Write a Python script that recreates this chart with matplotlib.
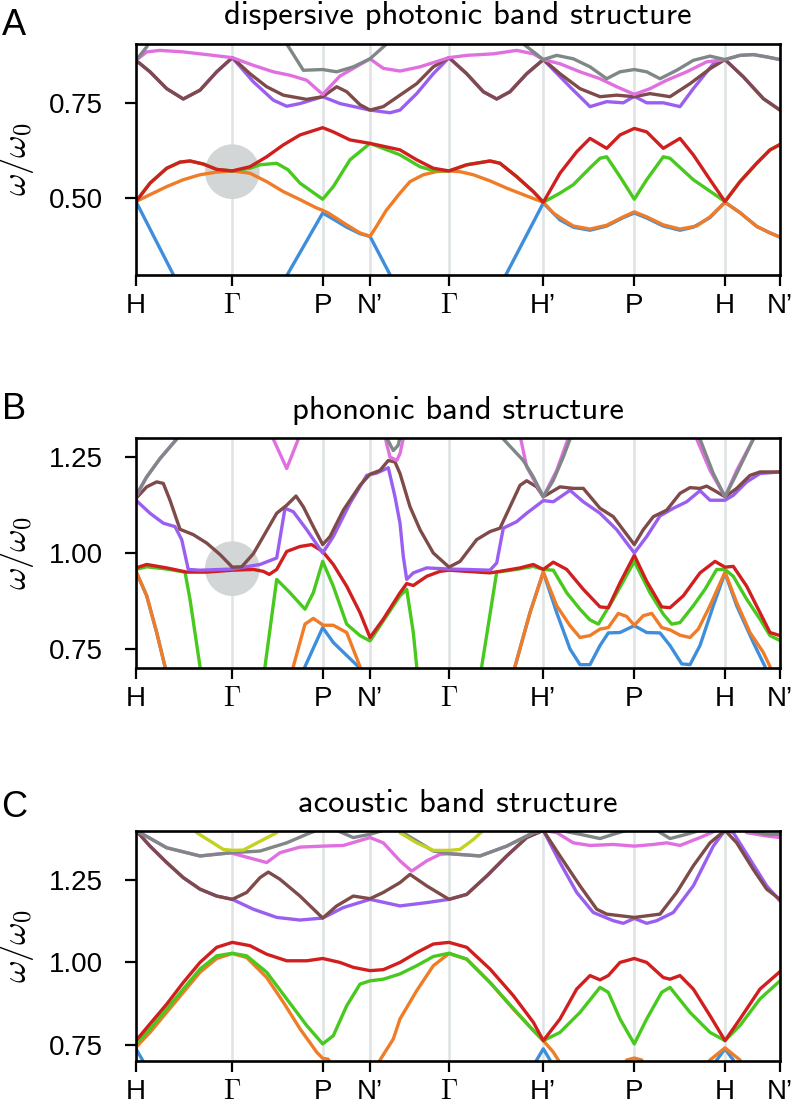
import numpy as np
import matplotlib.pyplot as plt

plt.rcParams['font.family'] = ['Liberation Sans', 'DejaVu Sans']
plt.rcParams['mathtext.fontset'] = 'cm'

# high-symmetry points along the k-path
K_POINTS = [0.0, 0.963, 1.867, 2.34, 3.13, 4.073, 4.983, 5.89, 6.44]
K_LABELS = ['H', r'$\Gamma$', 'P', 'N’', r'$\Gamma$', 'H’', 'P', 'H', 'N’']

TITLES = ['dispersive photonic band structure',
          'phononic band structure',
          'acoustic band structure']
LETTERS = ['A', 'B', 'C']
YLIMS = [(0.30, 0.905), (0.70, 1.30), (0.70, 1.40)]
YTICKS = [[0.50, 0.75], [0.75, 1.00, 1.25], [0.75, 1.00, 1.25]]

# highlighted degeneracy at Gamma (panels A and B)
HIGHLIGHTS = [(0.963, 0.570), (0.963, 0.959), None]

COLORS = {
    'blue': '#3d8fdd', 'orange': '#f07c28', 'green': '#47c91e',
    'red': '#d11f1f', 'purple': '#9a5ff0', 'brown': '#7e4b49',
    'pink': '#e070e0', 'gray': '#7f8787', 'olive': '#c3d11f',
}

# ---- panel A: dispersive photonic bands (k, omega/omega0); None = gap ----
A_BLUE = [(0, 0.492), (0.42, 0.277), None,
          (1.45, 0.272), (1.867, 0.462), (1.973, 0.446), (2.107, 0.425),
          (2.24, 0.408), (2.34, 0.401), (2.54, 0.301), (2.6, 0.27), None,
          (3.64, 0.271), (4.073, 0.488), (4.24, 0.444), (4.373, 0.425),
          (4.54, 0.417), (4.707, 0.428), (4.873, 0.450), (4.983, 0.462),
          (5.107, 0.449), (5.273, 0.428), (5.44, 0.417), (5.573, 0.425),
          (5.74, 0.450), (5.89, 0.490), (6.04, 0.463), (6.207, 0.427),
          (6.34, 0.410), (6.44, 0.399)]
A_ORANGE = [(0, 0.492), (0.14, 0.510), (0.307, 0.531), (0.473, 0.549),
            (0.64, 0.562), (0.807, 0.569), (0.963, 0.572), (1.14, 0.566),
            (1.307, 0.544), (1.473, 0.518), (1.64, 0.497), (1.807, 0.475),
            (1.867, 0.469), (1.923, 0.462), (2.107, 0.431), (2.24, 0.410),
            (2.34, 0.401), (2.40, 0.425), (2.50, 0.468), (2.64, 0.514),
            (2.74, 0.544), (2.873, 0.562), (3.0, 0.570), (3.13, 0.572),
            (3.24, 0.570), (3.373, 0.562), (3.54, 0.546), (3.707, 0.527),
            (3.873, 0.510), (4.073, 0.490), (4.173, 0.462), (4.24, 0.450),
            (4.373, 0.428), (4.54, 0.420), (4.707, 0.430), (4.873, 0.452),
            (4.983, 0.465), (5.107, 0.452), (5.273, 0.431), (5.44, 0.420),
            (5.607, 0.428), (5.74, 0.452), (5.89, 0.490), (6.04, 0.463),
            (6.207, 0.427), (6.34, 0.410), (6.44, 0.399)]
A_GREEN = [(0, 0.492), (0.14, 0.540), (0.307, 0.579), (0.44, 0.595),
           (0.54, 0.598), (0.673, 0.590), (0.807, 0.576), (0.963, 0.572),
           (1.14, 0.579), (1.24, 0.588), (1.407, 0.592), (1.52, 0.575),
           (1.64, 0.540), (1.867, 0.498), (1.973, 0.531), (2.14, 0.601),
           (2.34, 0.644), (2.64, 0.614), (2.84, 0.583), (2.973, 0.573),
           (3.13, 0.572), (3.307, 0.588), (3.54, 0.598), (3.64, 0.592),
           (3.807, 0.557), (3.973, 0.518), (4.073, 0.490), (4.24, 0.514),
           (4.373, 0.536), (4.54, 0.580), (4.64, 0.605), (4.707, 0.609),
           (4.84, 0.557), (4.983, 0.498), (5.107, 0.549), (5.273, 0.609),
           (5.34, 0.605), (5.573, 0.549), (5.89, 0.492), (6.04, 0.544),
           (6.207, 0.592), (6.34, 0.627), (6.44, 0.641)]
A_RED = [(0, 0.492), (0.14, 0.540), (0.307, 0.579), (0.44, 0.595),
         (0.54, 0.598), (0.673, 0.590), (0.807, 0.576), (0.963, 0.572),
         (1.14, 0.583), (1.307, 0.609), (1.473, 0.640), (1.64, 0.666),
         (1.867, 0.685), (1.973, 0.674), (2.14, 0.653), (2.34, 0.644),
         (2.64, 0.627), (2.807, 0.601), (2.973, 0.579), (3.13, 0.572),
         (3.307, 0.588), (3.54, 0.598), (3.64, 0.592), (3.807, 0.557),
         (3.973, 0.518), (4.073, 0.490), (4.24, 0.566), (4.407, 0.622),
         (4.54, 0.657), (4.707, 0.631), (4.84, 0.666), (4.983, 0.683),
         (5.107, 0.674), (5.273, 0.631), (5.44, 0.657), (5.573, 0.614),
         (5.74, 0.549), (5.89, 0.492), (6.04, 0.544), (6.207, 0.592),
         (6.34, 0.627), (6.44, 0.641)]
A_PURPLE = [(0, 0.861), (0.14, 0.831), (0.307, 0.787), (0.473, 0.760),
            (0.64, 0.783), (0.807, 0.831), (0.963, 0.868), (1.173, 0.805),
            (1.373, 0.757), (1.507, 0.741), (1.64, 0.748), (1.867, 0.766),
            (2.04, 0.748), (2.34, 0.731), (2.54, 0.724), (2.64, 0.731),
            (2.807, 0.774), (2.973, 0.826), (3.13, 0.868), (3.307, 0.826),
            (3.473, 0.779), (3.607, 0.760), (3.74, 0.779), (3.907, 0.826),
            (4.073, 0.863), (4.373, 0.783), (4.54, 0.740), (4.707, 0.753),
            (4.873, 0.750), (4.983, 0.767), (5.107, 0.750), (5.273, 0.750),
            (5.44, 0.740), (5.573, 0.787), (5.773, 0.852), (5.89, 0.863),
            (6.073, 0.818), (6.273, 0.761), (6.44, 0.731)]
A_BROWN = [(0, 0.861), (0.14, 0.831), (0.307, 0.787), (0.473, 0.760),
           (0.64, 0.783), (0.807, 0.831), (0.963, 0.868), (1.14, 0.826),
           (1.307, 0.792), (1.473, 0.770), (1.707, 0.759), (1.867, 0.766),
           (2.007, 0.792), (2.107, 0.779), (2.24, 0.745), (2.34, 0.731),
           (2.473, 0.740), (2.64, 0.770), (2.807, 0.800), (2.973, 0.844),
           (3.13, 0.868), (3.307, 0.826), (3.473, 0.779), (3.607, 0.760),
           (3.74, 0.779), (3.907, 0.826), (4.073, 0.863), (4.24, 0.826),
           (4.44, 0.787), (4.64, 0.766), (4.807, 0.770), (4.983, 0.766),
           (5.14, 0.774), (5.34, 0.766), (5.54, 0.800), (5.74, 0.839),
           (5.89, 0.863), (6.073, 0.818), (6.273, 0.761), (6.44, 0.731)]
A_PINK = [(0, 0.861), (0.107, 0.883), (0.24, 0.887), (0.473, 0.883),
          (0.707, 0.876), (0.963, 0.868), (1.173, 0.848), (1.373, 0.831),
          (1.54, 0.822), (1.707, 0.809), (1.867, 0.772), (2.04, 0.820),
          (2.24, 0.850), (2.34, 0.865), (2.473, 0.840), (2.64, 0.833),
          (2.84, 0.844), (3.13, 0.868), (3.307, 0.874), (3.573, 0.878),
          (3.807, 0.887), (3.973, 0.878), (4.073, 0.863), (4.24, 0.852),
          (4.44, 0.831), (4.64, 0.813), (4.807, 0.792), (4.983, 0.772),
          (5.14, 0.787), (5.307, 0.809), (5.507, 0.831), (5.707, 0.857),
          (5.89, 0.863), (6.04, 0.874), (6.173, 0.876), (6.307, 0.870),
          (6.44, 0.863)]
A_GRAY = [(0, 0.861), (0.107, 0.896), (0.16, 0.93), None,
          (1.45, 0.93), (1.507, 0.904), (1.673, 0.835), (1.867, 0.837),
          (2.007, 0.831), (2.173, 0.844), (2.34, 0.865), (2.507, 0.904),
          (2.55, 0.94), None,
          (3.84, 0.93), (3.873, 0.904), (4.073, 0.863), (4.207, 0.874),
          (4.373, 0.865), (4.54, 0.844), (4.707, 0.813), (4.84, 0.831),
          (4.983, 0.837), (5.107, 0.831), (5.24, 0.813), (5.407, 0.835),
          (5.573, 0.861), (5.74, 0.872), (5.89, 0.863), (6.04, 0.874),
          (6.173, 0.876), (6.307, 0.870), (6.44, 0.863)]

# ---- panel B: phononic bands ----
B_BLUE = [(0, 0.952), (0.107, 0.888), (0.207, 0.792), (0.29, 0.703),
          (0.31, 0.68), None,
          (1.67, 0.68), (1.69, 0.703), (1.867, 0.805), (1.973, 0.766),
          (2.107, 0.732), (2.223, 0.703), (2.25, 0.68), None,
          (3.77, 0.68), (3.79, 0.703), (3.94, 0.844), (4.073, 0.950),
          (4.207, 0.844), (4.34, 0.749), (4.44, 0.708), (4.54, 0.708),
          (4.64, 0.758), (4.723, 0.791), (4.84, 0.792), (4.983, 0.810),
          (5.107, 0.792), (5.24, 0.791), (5.34, 0.758), (5.457, 0.710),
          (5.54, 0.708), (5.64, 0.758), (5.773, 0.862), (5.89, 0.948),
          (6.007, 0.862), (6.173, 0.766), (6.29, 0.703), (6.31, 0.68)]
B_ORANGE = [(0, 0.952), (0.107, 0.888), (0.207, 0.792), (0.29, 0.703),
            (0.31, 0.68), None,
            (1.56, 0.68), (1.573, 0.703), (1.69, 0.814), (1.773, 0.829),
            (1.873, 0.811), (1.973, 0.811), (2.107, 0.792), (2.24, 0.703),
            (2.25, 0.68), None,
            (3.77, 0.68), (3.79, 0.703), (3.94, 0.844), (4.073, 0.950),
            (4.207, 0.862), (4.34, 0.810), (4.44, 0.779), (4.54, 0.784),
            (4.64, 0.801), (4.723, 0.805), (4.823, 0.842), (4.907, 0.834),
            (4.983, 0.811), (5.073, 0.836), (5.157, 0.842), (5.257, 0.805),
            (5.34, 0.799), (5.44, 0.785), (5.54, 0.779), (5.623, 0.801),
            (5.74, 0.862), (5.89, 0.950), (6.007, 0.870), (6.14, 0.792),
            (6.273, 0.740), (6.34, 0.703), (6.35, 0.68)]
B_GREEN = [(0, 0.957), (0.107, 0.964), (0.307, 0.958), (0.49, 0.950),
           (0.54, 0.879), (0.64, 0.703), (0.645, 0.68), None,
           (1.287, 0.68), (1.29, 0.703), (1.407, 0.931), (1.54, 0.896),
           (1.69, 0.853), (1.773, 0.896), (1.867, 0.978), (1.973, 0.913),
           (2.107, 0.814), (2.24, 0.784), (2.34, 0.770), (2.64, 0.888),
           (2.707, 0.905), (2.773, 0.792), (2.807, 0.703), (2.81, 0.68), None,
           (3.45, 0.68), (3.457, 0.703), (3.607, 0.950), (3.807, 0.957),
           (3.973, 0.965), (4.073, 0.957), (4.173, 0.955), (4.307, 0.896),
           (4.44, 0.853), (4.54, 0.825), (4.623, 0.814), (4.773, 0.879),
           (4.983, 0.978), (5.14, 0.896), (5.273, 0.840), (5.357, 0.814),
           (5.44, 0.818), (5.573, 0.862), (5.69, 0.905), (5.807, 0.957),
           (5.89, 0.957), (5.973, 0.939), (6.107, 0.879), (6.24, 0.827),
           (6.34, 0.784), (6.44, 0.771)]
B_RED = [(0, 0.961), (0.107, 0.970), (0.307, 0.961), (0.507, 0.950),
         (0.707, 0.950), (0.963, 0.955), (1.173, 0.957), (1.273, 0.952),
         (1.333, 0.944), (1.407, 0.957), (1.507, 1.004), (1.64, 1.017),
         (1.757, 1.022), (1.867, 1.004), (1.973, 0.970), (2.107, 0.913),
         (2.24, 0.844), (2.34, 0.779), (2.473, 0.827), (2.64, 0.896),
         (2.707, 0.920), (2.773, 0.915), (2.907, 0.939), (3.04, 0.952),
         (3.13, 0.955), (3.307, 0.952), (3.54, 0.948), (3.64, 0.952),
         (3.84, 0.961), (3.973, 0.970), (4.073, 0.957), (4.173, 0.976),
         (4.307, 0.957), (4.473, 0.905), (4.64, 0.859), (4.723, 0.857),
         (4.84, 0.922), (4.983, 0.994), (5.107, 0.926), (5.257, 0.859),
         (5.34, 0.857), (5.473, 0.888), (5.64, 0.948), (5.79, 0.978),
         (5.89, 0.963), (5.973, 0.965), (6.107, 0.913), (6.24, 0.844),
         (6.34, 0.792), (6.44, 0.784)]
B_PURPLE = [(0, 1.138), (0.14, 1.104), (0.273, 1.078), (0.39, 1.069),
            (0.457, 1.035), (0.523, 0.957), (0.64, 0.955), (0.963, 0.958),
            (1.24, 0.970), (1.407, 0.987), (1.49, 1.117), (1.573, 1.108),
            (1.707, 1.061), (1.867, 1.000), (1.973, 1.043), (2.14, 1.130),
            (2.307, 1.203), (2.407, 1.209), (2.523, 1.223), (2.59, 1.147),
            (2.64, 1.078), (2.673, 0.991), (2.707, 0.931), (2.773, 0.948),
            (2.907, 0.961), (3.13, 0.958), (3.307, 0.957), (3.54, 0.955),
            (3.607, 0.974), (3.673, 1.065), (3.807, 1.082), (3.907, 1.104),
            (4.073, 1.137), (4.173, 1.134), (4.34, 1.164), (4.473, 1.134),
            (4.64, 1.104), (4.807, 1.061), (4.983, 1.000), (5.107, 1.043),
            (5.24, 1.097), (5.373, 1.117), (5.507, 1.134), (5.64, 1.163),
            (5.74, 1.138), (5.89, 1.138), (5.973, 1.151), (6.107, 1.186),
            (6.24, 1.208), (6.44, 1.212)]
B_BROWN = [(0, 1.143), (0.107, 1.173), (0.207, 1.186), (0.273, 1.182),
           (0.34, 1.138), (0.44, 1.062), (0.573, 1.048), (0.707, 1.026),
           (0.84, 0.996), (0.963, 0.963), (1.057, 0.964), (1.173, 0.998),
           (1.273, 1.043), (1.407, 1.104), (1.507, 1.125), (1.60, 1.149),
           (1.673, 1.121), (1.773, 1.069), (1.867, 1.022), (1.94, 1.043),
           (2.073, 1.112), (2.24, 1.177), (2.34, 1.206), (2.44, 1.216),
           (2.523, 1.242), (2.59, 1.238), (2.64, 1.208), (2.74, 1.121),
           (2.84, 1.061), (2.973, 1.000), (3.13, 0.963), (3.24, 0.978),
           (3.407, 1.035), (3.54, 1.056), (3.64, 1.065), (3.74, 1.121),
           (3.84, 1.177), (3.907, 1.189), (4.007, 1.173), (4.073, 1.147),
           (4.24, 1.173), (4.373, 1.169), (4.473, 1.169), (4.64, 1.117),
           (4.773, 1.095), (4.983, 1.022), (5.073, 1.061), (5.173, 1.095),
           (5.307, 1.112), (5.44, 1.156), (5.54, 1.171), (5.64, 1.169),
           (5.707, 1.175), (5.807, 1.160), (5.89, 1.147), (6.007, 1.169),
           (6.14, 1.203), (6.24, 1.212), (6.44, 1.212)]
B_PINK = [(0, 1.147), (0.107, 1.199), (0.24, 1.247), (0.407, 1.298),
          (0.43, 1.32), None,
          (1.36, 1.32), (1.373, 1.298), (1.507, 1.221), (1.623, 1.298),
          (1.64, 1.32), None,
          (2.48, 1.32), (2.507, 1.285), (2.54, 1.251), (2.607, 1.242),
          (2.64, 1.26), (2.69, 1.32), None,
          (3.83, 1.32), (3.907, 1.225), (4.073, 1.147), (4.207, 1.216),
          (4.35, 1.32), None,
          (5.6, 1.32), (5.607, 1.298), (5.74, 1.216), (5.89, 1.147),
          (6.007, 1.216), (6.173, 1.298), (6.18, 1.32)]
B_GRAY = [(0, 1.151), (0.107, 1.199), (0.24, 1.247), (0.407, 1.298),
          (0.43, 1.32), None,
          (2.47, 1.32), (2.573, 1.268), (2.62, 1.281), (2.66, 1.32), None,
          (3.64, 1.32), (3.673, 1.298), (3.873, 1.242), (3.973, 1.199),
          (4.073, 1.147), (4.173, 1.19), (4.273, 1.251), (4.34, 1.298),
          (4.35, 1.32), None,
          (5.63, 1.32), (5.64, 1.298), (5.773, 1.208), (5.89, 1.147),
          (6.007, 1.208), (6.173, 1.298), (6.18, 1.32)]

# ---- panel C: acoustic bands ----
C_BLUE = [(0, 0.737), (0.07, 0.70), (0.09, 0.68), None,
          (3.98, 0.68), (4.007, 0.703), (4.073, 0.737), (4.14, 0.703),
          (4.16, 0.68), None,
          (5.78, 0.68), (5.807, 0.703), (5.89, 0.737), (5.973, 0.703),
          (6.0, 0.68)]
C_ORANGE = [(0, 0.742), (0.14, 0.787), (0.307, 0.848), (0.473, 0.909),
            (0.64, 0.970), (0.807, 1.012), (0.963, 1.027), (1.107, 1.015),
            (1.307, 0.954), (1.473, 0.879), (1.64, 0.798), (1.807, 0.727),
            (1.867, 0.708), (1.92, 0.706), (1.95, 0.69), None,
            (2.43, 0.69), (2.44, 0.703), (2.573, 0.767), (2.64, 0.828),
            (2.807, 0.914), (2.973, 0.990), (3.13, 1.027), (3.307, 1.010),
            (3.54, 0.939), (3.773, 0.858), (3.973, 0.793), (4.073, 0.762),
            (4.173, 0.727), (4.223, 0.703), (4.24, 0.69), None,
            (4.89, 0.69), (4.907, 0.703), (4.983, 0.709), (5.057, 0.703),
            (5.07, 0.69), None,
            (5.72, 0.69), (5.74, 0.703), (5.89, 0.740), (6.04, 0.703),
            (6.06, 0.69)]
C_GREEN = [(0, 0.752), (0.14, 0.798), (0.307, 0.858), (0.473, 0.919),
           (0.64, 0.980), (0.807, 1.020), (0.963, 1.028), (1.107, 1.020),
           (1.307, 0.970), (1.507, 0.889), (1.707, 0.808), (1.867, 0.752),
           (1.973, 0.777), (2.107, 0.868), (2.24, 0.934), (2.34, 0.944),
           (2.473, 0.949), (2.64, 0.965), (2.807, 0.990), (2.973, 1.018),
           (3.13, 1.028), (3.307, 1.010), (3.54, 0.939), (3.773, 0.860),
           (3.973, 0.793), (4.073, 0.762), (4.24, 0.787), (4.44, 0.848),
           (4.64, 0.924), (4.723, 0.909), (4.84, 0.828), (4.983, 0.752),
           (5.107, 0.828), (5.257, 0.909), (5.34, 0.924), (5.54, 0.848),
           (5.74, 0.787), (5.89, 0.762), (6.04, 0.808), (6.24, 0.889),
           (6.44, 0.944)]
C_RED = [(0, 0.762), (0.14, 0.813), (0.307, 0.873), (0.473, 0.939),
         (0.64, 1.000), (0.807, 1.046), (0.963, 1.061), (1.14, 1.051),
         (1.307, 1.025), (1.507, 1.005), (1.707, 1.005), (1.867, 1.012),
         (2.04, 1.000), (2.173, 0.985), (2.34, 0.975), (2.473, 0.978),
         (2.64, 1.000), (2.807, 1.030), (2.973, 1.056), (3.13, 1.061),
         (3.307, 1.046), (3.54, 0.980), (3.773, 0.899), (3.973, 0.818),
         (4.073, 0.762), (4.24, 0.828), (4.407, 0.919), (4.54, 0.960),
         (4.64, 0.947), (4.723, 0.960), (4.84, 1.000), (4.983, 1.012),
         (5.107, 1.000), (5.273, 0.954), (5.34, 0.949), (5.44, 0.960),
         (5.573, 0.919), (5.74, 0.838), (5.89, 0.762), (6.04, 0.828),
         (6.24, 0.919), (6.44, 0.972)]
C_PURPLE = [(0, 1.402), (0.14, 1.354), (0.307, 1.304), (0.473, 1.258),
            (0.64, 1.223), (0.807, 1.202), (0.963, 1.192), (1.173, 1.162),
            (1.407, 1.137), (1.64, 1.129), (1.867, 1.135), (2.073, 1.167),
            (2.34, 1.192), (2.64, 1.172), (2.907, 1.182), (3.13, 1.192),
            (3.307, 1.207), (3.507, 1.263), (3.707, 1.324), (3.907, 1.380),
            (4.073, 1.402), (4.24, 1.304), (4.407, 1.213), (4.573, 1.152),
            (4.773, 1.127), (4.873, 1.119), (4.983, 1.134), (5.107, 1.119),
            (5.207, 1.127), (5.373, 1.152), (5.573, 1.233), (5.773, 1.354),
            (5.89, 1.402), (5.973, 1.395), (6.14, 1.314), (6.307, 1.233),
            (6.44, 1.187)]
C_BROWN = [(0, 1.402), (0.14, 1.354), (0.307, 1.304), (0.473, 1.258),
           (0.64, 1.223), (0.807, 1.202), (0.963, 1.192), (1.107, 1.213),
           (1.24, 1.258), (1.323, 1.275), (1.44, 1.253), (1.64, 1.202),
           (1.867, 1.135), (2.007, 1.172), (2.173, 1.202), (2.34, 1.194),
           (2.473, 1.213), (2.64, 1.243), (2.74, 1.268), (2.907, 1.233),
           (3.13, 1.192), (3.307, 1.207), (3.507, 1.263), (3.707, 1.324),
           (3.907, 1.380), (4.073, 1.402), (4.24, 1.324), (4.44, 1.233),
           (4.607, 1.162), (4.707, 1.147), (4.983, 1.137), (5.24, 1.147),
           (5.407, 1.213), (5.573, 1.294), (5.74, 1.364), (5.89, 1.402),
           (6.007, 1.364), (6.173, 1.283), (6.307, 1.223), (6.44, 1.192)]
C_PINK = [(0, 1.402), (0.04, 1.395), (0.307, 1.349), (0.64, 1.324),
          (0.94, 1.334), (1.307, 1.304), (1.44, 1.334), (1.64, 1.351),
          (1.867, 1.354), (2.073, 1.356), (2.34, 1.380), (2.473, 1.364),
          (2.64, 1.309), (2.757, 1.278), (2.907, 1.309), (3.04, 1.329),
          (3.13, 1.331), (3.44, 1.324), (3.707, 1.354), (3.973, 1.395),
          (4.073, 1.402), (4.207, 1.395), (4.373, 1.364), (4.54, 1.356),
          (4.773, 1.359), (4.983, 1.354), (5.173, 1.359), (5.307, 1.364),
          (5.44, 1.356), (5.64, 1.380), (5.807, 1.402), (5.85, 1.42), None,
          (6.05, 1.42), (6.107, 1.395), (6.307, 1.385), (6.44, 1.380)]
C_GRAY = [(0, 1.402), (0.04, 1.395), (0.307, 1.349), (0.64, 1.324),
          (0.963, 1.334), (1.24, 1.339), (1.507, 1.364), (1.707, 1.390),
          (1.807, 1.402), (1.85, 1.42), None,
          (1.97, 1.42), (2.007, 1.402), (2.173, 1.380), (2.34, 1.390),
          (2.473, 1.402), (2.50, 1.42), None,
          (2.60, 1.42), (2.64, 1.400), (2.807, 1.370), (2.973, 1.339),
          (3.13, 1.331), (3.44, 1.324), (3.707, 1.354), (3.973, 1.395),
          (4.073, 1.402), (4.10, 1.42), None,
          (4.20, 1.42), (4.24, 1.402), (4.44, 1.390), (4.64, 1.377),
          (4.773, 1.390), (4.907, 1.402), (4.93, 1.42), None,
          (5.18, 1.42), (5.207, 1.402), (5.34, 1.377), (5.507, 1.390),
          (5.64, 1.402), (5.67, 1.42), None,
          (6.08, 1.42), (6.107, 1.402), (6.307, 1.390), (6.44, 1.390)]
C_OLIVE = [(0.58, 1.42), (0.607, 1.395), (0.873, 1.344), (0.963, 1.341),
           (1.073, 1.342), (1.407, 1.395), (1.43, 1.42), None,
           (2.62, 1.42), (2.64, 1.395), (2.807, 1.364), (2.973, 1.341),
           (3.13, 1.341), (3.24, 1.344), (3.373, 1.374), (3.473, 1.402),
           (3.49, 1.42)]

PANEL_BANDS = [
    [('blue', A_BLUE), ('orange', A_ORANGE), ('green', A_GREEN),
     ('red', A_RED), ('purple', A_PURPLE), ('brown', A_BROWN),
     ('pink', A_PINK), ('gray', A_GRAY)],
    [('blue', B_BLUE), ('orange', B_ORANGE), ('green', B_GREEN),
     ('red', B_RED), ('purple', B_PURPLE), ('brown', B_BROWN),
     ('pink', B_PINK), ('gray', B_GRAY)],
    [('blue', C_BLUE), ('orange', C_ORANGE), ('green', C_GREEN),
     ('red', C_RED), ('purple', C_PURPLE), ('brown', C_BROWN),
     ('pink', C_PINK), ('gray', C_GRAY), ('olive', C_OLIVE)],
]


def to_xy(points):
    """Split a list of (k, w) pairs into arrays, None becomes a gap."""
    k = np.array([np.nan if p is None else p[0] for p in points])
    w = np.array([np.nan if p is None else p[1] for p in points])
    return k, w


def draw_panel(ax, bands, ylim, yticks, title, highlight):
    """Draw one band-structure panel."""
    for kp in K_POINTS[1:-1]:
        ax.axvline(kp, color='#dfe3e3', lw=1.8, zorder=0.5)
    if highlight is not None:
        ax.scatter([highlight[0]], [highlight[1]], s=1550, color='#d3d6d6',
                   edgecolors='none', zorder=1)
    for name, pts in bands:
        k, w = to_xy(pts)
        ax.plot(k, w, color=COLORS[name], lw=2.4, zorder=2,
                solid_joinstyle='round', solid_capstyle='round')

    ax.set_xlim(K_POINTS[0], K_POINTS[-1])
    ax.set_ylim(*ylim)
    ax.set_xticks(K_POINTS)
    ax.set_xticklabels(K_LABELS)
    ax.set_yticks(yticks)
    ax.set_yticklabels(['%.2f' % t for t in yticks])
    ax.tick_params(axis='both', direction='out', length=8, width=1.6,
                   labelsize=20)
    ax.tick_params(axis='y', pad=16)
    ax.tick_params(axis='x', pad=5)
    for sp in ax.spines.values():
        sp.set_linewidth(1.9)
    ax.set_ylabel(r'$\omega/\omega_0$', fontsize=25)
    ax.yaxis.set_label_coords(-0.155, 0.5)
    ax.set_title(title, fontsize=23.5, pad=14,
                 fontfamily=['cmss10', 'DejaVu Sans'])


def main():
    fig = plt.figure(figsize=(7.93, 11.09), dpi=100)
    left, width = 136 / 793, 644 / 793
    boxes = [(1 - 275 / 1109, 231.5 / 1109),
             (1 - 667.7 / 1109, 229.4 / 1109),
             (1 - 1061 / 1109, 230 / 1109)]
    letter_y = [1 - 35 / 1109, 1 - 419 / 1109, 1 - 817 / 1109]

    for i in range(3):
        ax = fig.add_axes([left, boxes[i][0], width, boxes[i][1]])
        draw_panel(ax, PANEL_BANDS[i], YLIMS[i], YTICKS[i], TITLES[i],
                   HIGHLIGHTS[i])
        fig.text(0.002, letter_y[i], LETTERS[i], fontsize=26,
                 va='baseline', ha='left')

    fig.savefig('out.png', dpi=100)


if __name__ == '__main__':
    main()
